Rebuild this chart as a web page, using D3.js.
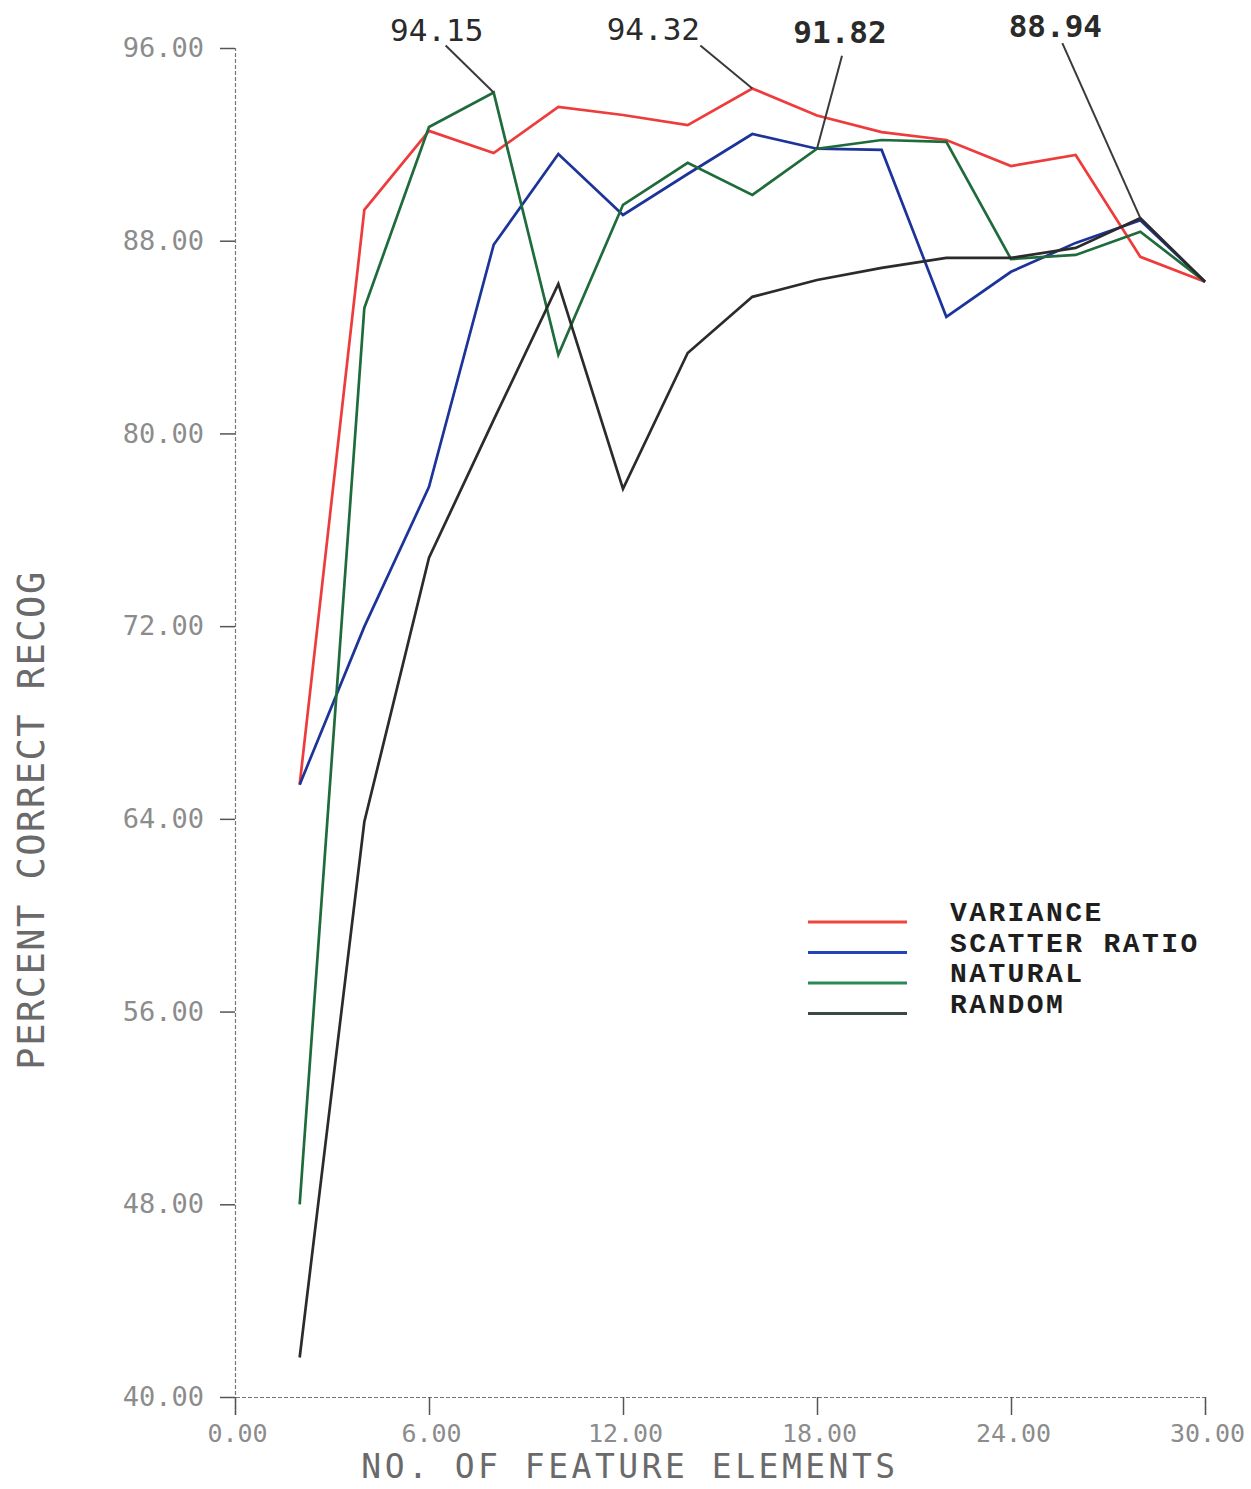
<!DOCTYPE html>
<html>
<head>
<meta charset="utf-8">
<script src="https://cdn.jsdelivr.net/npm/d3@7"></script>
<style>
  body { margin: 0; background: #fff; }
  svg { display: block; }
</style>
</head>
<body>
<svg id="chart" width="1251" height="1489"></svg>
<script>
// Number of feature elements used by the classifier
const featureCounts = [2, 4, 6, 8, 10, 12, 14, 16, 18, 20, 22, 24, 26, 28, 30];

// Percent correct recognition for each feature-selection method
const variance     = [65.42, 89.28, 92.56, 91.64, 93.55, 93.22, 92.80, 94.32, 93.20, 92.51, 92.18, 91.10, 91.56, 87.33, 86.30];
const scatterRatio = [65.42, 71.98, 77.78, 87.83, 91.60, 89.07, 90.77, 92.43, 91.82, 91.77, 84.84, 86.71, 87.91, 88.85, 86.30];
const natural      = [48.00, 85.21, 92.72, 94.15, 83.26, 89.49, 91.23, 89.90, 91.82, 92.18, 92.10, 87.24, 87.41, 88.37, 86.30];
const random       = [41.64, 63.88, 74.84, 80.56, 86.21, 77.70, 83.34, 85.67, 86.37, 86.87, 87.29, 87.29, 87.70, 88.94, 86.30];

const seriesNames  = ["VARIANCE", "SCATTER RATIO", "NATURAL", "RANDOM"];
const seriesColors = ["#ee3b3b", "#1c3399", "#1f6b3c", "#2b2b2b"];
const legendColors = ["#f0443c", "#2244bb", "#2a8a55", "#3a4a42"];

const xTicks = [0, 6, 12, 18, 24, 30];
const yTicks = [40, 48, 56, 64, 72, 80, 88, 96];

const xTitle = "NO. OF FEATURE ELEMENTS";
const yTitle = "PERCENT CORRECT RECOG";

// Peak values called out above the plot: [series index, point index]
const callouts = [[2, 3], [0, 7], [1, 8], [3, 13]];

const allSeries = [variance, scatterRatio, natural, random];

const svg = d3.select("#chart");
const fmt = d3.format(".2f");

const x = d3.scaleLinear().domain([0, 30]).range([235, 1205]);
const y = d3.scaleLinear().domain([40, 96]).range([1397, 48]);

const tickFont = "'DejaVu Sans Mono', monospace";

// ---- Y axis
const yAxis = svg.append("g")
  .attr("transform", `translate(${x(0)},0)`)
  .call(d3.axisLeft(y).tickValues(yTicks).tickFormat(fmt).tickSize(15).tickPadding(16));
yAxis.select(".domain").attr("stroke", "#777").attr("stroke-width", 1.2).attr("stroke-dasharray", "4,2");
yAxis.selectAll(".tick line").attr("stroke", "#555").attr("stroke-width", 1.5);
yAxis.selectAll(".tick text")
  .attr("font-family", tickFont).attr("font-size", 27)
  .attr("fill", "#8c8c8c");

// ---- X axis
const xAxis = svg.append("g")
  .attr("transform", `translate(0,${y(40)})`)
  .call(d3.axisBottom(x).tickValues(xTicks).tickFormat(fmt).tickSize(18).tickPadding(9));
xAxis.select(".domain").attr("stroke", "#777").attr("stroke-width", 1.2).attr("stroke-dasharray", "4,2");
xAxis.selectAll(".tick line").attr("stroke", "#555").attr("stroke-width", 1.5);
xAxis.selectAll(".tick text")
  .attr("font-family", tickFont).attr("font-size", 25)
  .attr("fill", "#8c8c8c")
  .attr("dx", 2);

// ---- Axis titles
svg.append("text")
  .attr("x", 630).attr("y", 1478)
  .attr("text-anchor", "middle")
  .attr("font-family", tickFont).attr("font-size", 33)
  .attr("letter-spacing", 3.5)
  .attr("fill", "#6a6a6a")
  .text(xTitle);

svg.append("text")
  .attr("transform", "translate(44,820) rotate(-90)")
  .attr("text-anchor", "middle")
  .attr("font-family", tickFont).attr("font-size", 37)
  .attr("letter-spacing", 1.5)
  .attr("fill", "#6a6a6a")
  .text(yTitle);

// ---- Series lines
const line = d3.line()
  .x((d, i) => x(featureCounts[i]))
  .y(d => y(d));

svg.append("g").selectAll("path")
  .data(allSeries)
  .join("path")
  .attr("d", line)
  .attr("fill", "none")
  .attr("stroke", (d, i) => seriesColors[i])
  .attr("stroke-width", 2.7)
  .attr("stroke-linejoin", "miter");

// ---- Callouts with leader lines
const calloutLayout = [
  { dx: -57, dy: -52, lx: -48, ly: -47, bold: false },
  { dx: -99, dy: -48, lx: -52, ly: -43, bold: false },
  { dx: 23,  dy: -106, lx: 25, ly: -93, bold: true },
  { dx: -85, dy: -181, lx: -78, ly: -175, bold: true }
];

const cg = svg.append("g");
callouts.forEach(([s, i], k) => {
  const px = x(featureCounts[i]);
  const py = y(allSeries[s][i]);
  const lay = calloutLayout[k];
  cg.append("line")
    .attr("x1", px + lay.lx).attr("y1", py + lay.ly)
    .attr("x2", px).attr("y2", py)
    .attr("stroke", "#3a3a3a").attr("stroke-width", 2);
  cg.append("text")
    .attr("x", px + lay.dx).attr("y", py + lay.dy)
    .attr("text-anchor", "middle")
    .attr("font-family", tickFont)
    .attr("font-size", 31)
    .attr("font-weight", lay.bold ? "bold" : "normal")
    .attr("fill", "#2a2a2a")
    .text(fmt(allSeries[s][i]));
});

// ---- Legend
const legend = svg.append("g").attr("transform", "translate(808,922)");
const rows = legend.selectAll("g")
  .data(seriesNames)
  .join("g")
  .attr("transform", (d, i) => `translate(0,${i * 30.5})`);
rows.append("line")
  .attr("x1", 0).attr("x2", 99)
  .attr("stroke", (d, i) => legendColors[i])
  .attr("stroke-width", 3);
rows.append("text")
  .attr("x", 142).attr("y", -1)
  .attr("font-family", "'Liberation Mono', 'Courier New', monospace")
  .attr("font-weight", "bold")
  .attr("font-size", 28)
  .attr("letter-spacing", 2.4)
  .attr("fill", "#1e1e1e")
  .text(d => d);
</script>
</body>
</html>
